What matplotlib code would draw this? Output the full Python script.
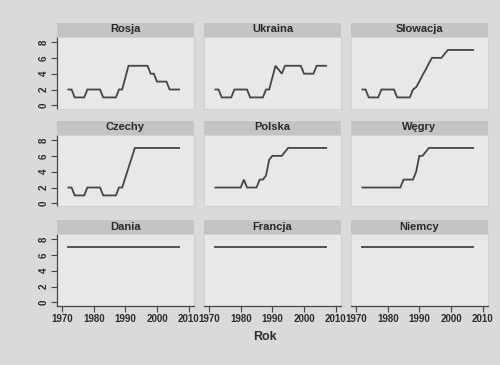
import numpy as np
import matplotlib
matplotlib.use("Agg")
import matplotlib.pyplot as plt

plt.rcParams["font.family"] = ["Liberation Sans", "DejaVu Sans"]

# yearly index values, 1972-2007
years = list(range(1972, 2008))

countries = ["Rosja", "Ukraina", "Słowacja",
             "Czechy", "Polska", "Węgry",
             "Dania", "Francja", "Niemcy"]

rosja = [2, 2, 1, 1, 1, 1, 2, 2, 2, 2, 2,
         1, 1, 1, 1, 1,
         2, 2, 3.5, 5, 5, 5, 5, 5, 5, 5,
         4, 4, 3, 3, 3, 3, 2, 2, 2, 2]
ukraina = [2, 2, 1, 1, 1, 1, 2, 2, 2, 2, 2,
           1, 1, 1, 1, 1,
           2, 2, 3.5, 5, 4.5, 4, 5, 5, 5, 5,
           5, 5, 4, 4, 4, 4, 5, 5, 5, 5]
slowacja = [2, 2, 1, 1, 1, 1, 2, 2, 2, 2, 2,
            1, 1, 1, 1, 1,
            2, 2.3, 3, 3.8, 4.5, 5.3, 6, 6, 6, 6,
            6.5, 7, 7, 7, 7, 7, 7, 7, 7, 7]
czechy = [2, 2, 1, 1, 1, 1, 2, 2, 2, 2, 2,
          1, 1, 1, 1, 1,
          2, 2, 3.25, 4.5, 5.75, 7, 7, 7, 7, 7,
          7, 7, 7, 7, 7, 7, 7, 7, 7, 7]
polska = [2, 2, 2, 2, 2, 2, 2, 2, 2,
          3, 2, 2, 2, 2, 3, 3,
          3.5, 5.5, 6, 6, 6, 6, 6.5, 7,
          7, 7, 7, 7, 7, 7, 7, 7, 7, 7, 7, 7]
wegry = [2, 2, 2, 2, 2, 2, 2, 2, 2, 2, 2, 2, 2,
         3, 3, 3, 3, 4, 6, 6, 6.5, 7,
         7, 7, 7, 7, 7, 7, 7, 7, 7, 7, 7, 7, 7, 7]
dania = [7] * 36
francja = [7] * 36
niemcy = [7] * 36

series = [rosja, ukraina, slowacja,
          czechy, polska, wegry,
          dania, francja, niemcy]

xticks = [1970, 1980, 1990, 2000, 2010]
yticks = [0, 2, 4, 6, 8]

W, H = 500, 365
col_left = [57, 204, 351]
row_top = [36.5, 134.5, 233.5]
pw, ph, sh = 137, 72, 14

bg = "#dadada"
panel_bg = "#e8e8e8"
strip_bg = "#c4c4c4"
ink = "#2a2a2a"

fig = plt.figure(figsize=(W / 100, H / 100), dpi=100)
fig.patch.set_facecolor(bg)

for i, (name, vals) in enumerate(zip(countries, series)):
    r, c = divmod(i, 3)
    x0, top = col_left[c], row_top[r]
    ax = fig.add_axes([x0 / W, 1 - (top + ph) / H, pw / W, ph / H])
    ax.set_facecolor(panel_bg)
    ax.plot(years, vals, color="#454545", lw=1.3, solid_joinstyle="miter")
    ax.set_xlim(1968.4, 2011.7)
    ax.set_ylim(-0.4, 8.7)
    ax.set_xticks(xticks)
    ax.set_yticks(yticks)
    for sp in ax.spines.values():
        sp.set_color("#cfcfcf")
        sp.set_linewidth(0.6)
    ax.tick_params(length=4, width=0.8, color="#444444", labelsize=7,
                   labelcolor=ink, pad=2)
    if c == 0:
        ax.spines["left"].set_color("#444444")
        ax.spines["left"].set_linewidth(0.9)
        plt.setp(ax.get_yticklabels(), rotation=90, va="center",
                 fontweight="bold")
    else:
        ax.tick_params(axis="y", left=False, labelleft=False)
    if r == 2:
        ax.spines["bottom"].set_color("#444444")
        ax.spines["bottom"].set_linewidth(0.9)
        plt.setp(ax.get_xticklabels(), fontweight="bold")
    else:
        ax.tick_params(axis="x", bottom=False, labelbottom=False)

    # strip with the country name
    sax = fig.add_axes([x0 / W, 1 - top / H, pw / W, sh / H])
    sax.set_facecolor(strip_bg)
    sax.set_xticks([])
    sax.set_yticks([])
    for sp in sax.spines.values():
        sp.set_visible(False)
    sax.text(0.5, 0.5, name, ha="center", va="center", fontsize=8,
             fontweight="bold", color=ink, transform=sax.transAxes)

fig.text(265 / W, 1 - 337 / H, "Rok", ha="center", va="center",
         fontsize=9, fontweight="bold", color=ink)

fig.savefig("out.png", dpi=100, facecolor=fig.get_facecolor())
